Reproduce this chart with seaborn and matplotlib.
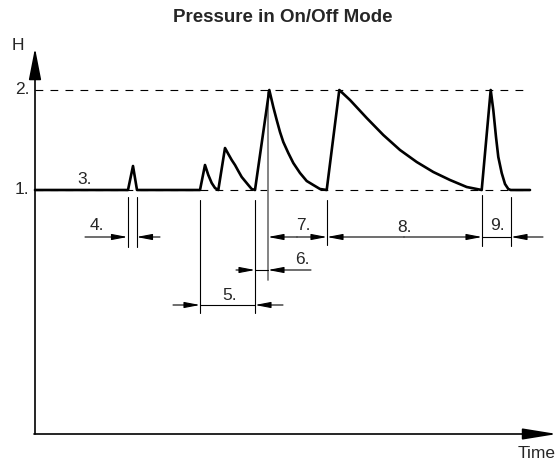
import matplotlib
matplotlib.use("Agg")
import matplotlib.pyplot as plt
from matplotlib.patches import FancyArrowPatch
import seaborn as sns
import pandas as pd

# ---- data (time in arbitrary units, H pressure level) ----
time_pts = [35, 128, 133, 137, 200,
            205, 208.3, 211.7, 215, 218.3,
            225, 228.3, 231.7, 235, 238.3, 241.7, 245, 248.3, 251.7, 255,
            269.3, 273.3, 276.7, 280, 283.3, 288.3, 293.3, 300, 306.7, 313.3, 320, 326.7,
            339.3, 350, 366.7, 383.3, 400, 416.7, 433.3, 450, 466.7, 481.7,
            490.7, 493.3, 496, 498.3, 501.7, 505, 508.3, 510.7,
            530]
pressure = [1.0, 1.0, 1.24, 1.0, 1.0,
            1.25, 1.15, 1.07, 1.02, 1.0,
            1.42, 1.36, 1.30, 1.25, 1.19, 1.13, 1.09, 1.05, 1.01, 1.0,
            2.0, 1.83, 1.70, 1.58, 1.48, 1.37, 1.27, 1.17, 1.09, 1.05, 1.01, 1.0,
            2.0, 1.90, 1.72, 1.55, 1.40, 1.28, 1.18, 1.10, 1.03, 1.0,
            2.0, 1.80, 1.53, 1.33, 1.17, 1.06, 1.01, 1.0,
            1.0]
level_labels = ["1.", "2."]
level_values = [1.0, 2.0]
dim_labels = ["3.", "4.", "5.", "6.", "7.", "8.", "9."]
title = "Pressure in On/Off Mode"
x_label = "Time"
y_label = "H"

sns.set_style("white")
plt.rcParams['font.family'] = ['Liberation Sans', 'DejaVu Sans']

fig = plt.figure(figsize=(5.58, 4.59), dpi=100)
ax = fig.add_axes([0, 0, 1, 1])


def hy(py):
    return 1 + (190 - py) / 100.0


def arrow(x0, y0, x1, y1, hl=9.4, hw=1.8, lw=0.8, color='black'):
    p = FancyArrowPatch((x0, hy(y0)), (x1, hy(y1)),
                        arrowstyle=f'-|>,head_length={hl},head_width={hw}',
                        mutation_scale=1, lw=lw, color=color,
                        shrinkA=0, shrinkB=0, zorder=3)
    ax.add_patch(p)


def vline(x, y0, y1, lw=0.8, color='black'):
    ax.plot([x, x], [hy(y0), hy(y1)], color=color, lw=lw, zorder=2)


def hline(x0, x1, y, lw=0.8):
    ax.plot([x0, x1], [hy(y), hy(y)], color='black', lw=lw, zorder=2)


# dashed reference levels
for v in level_values:
    ax.plot([35, 523], [v, v], color='black', lw=0.8, ls=(0, (7, 6.5)), zorder=1)

# pressure curve
df = pd.DataFrame({"t": time_pts, "H": pressure})
sns.lineplot(data=df, x="t", y="H", sort=False, estimator=None, ax=ax,
             color='black', lw=1.9, zorder=4)
ax.axis('off')
ax.set_xlim(0, 558)
ax.set_ylim(-1.69, 2.9)

# axes with arrows
arrow(35, 434, 35, 48, hl=19.5, hw=3.8, lw=1.2)
arrow(34, 434, 557, 434, hl=21, hw=3.4, lw=1.2)

# extension lines
vline(127.5, 197, 247)
vline(136.5, 197, 247)
vline(200, 200, 313)
vline(255, 200, 313)
vline(268, 92, 280, lw=1.3, color='#7a7a7a')
vline(327, 200, 245)
vline(482, 195, 246)
vline(511, 197, 246)

# dimension 4
arrow(85, 237, 127.5, 237)
arrow(160, 237, 136.5, 237)
# dimension 5
arrow(173, 305, 200, 305)
arrow(283, 305, 255, 305)
hline(200, 255, 305)
# dimension 6
arrow(236, 270, 255, 270)
arrow(311, 270, 268, 270)
hline(255, 268, 270)
# dimension 7
arrow(297, 237, 268, 237)
arrow(297, 237, 327, 237)
# dimension 8
arrow(404, 237, 327, 237)
arrow(404, 237, 482, 237)
# dimension 9
hline(482, 511, 237)
arrow(543, 237, 511, 237)

fs = 12.5
label_pos = [(85, 180), (97, 226), (230, 295), (302, 260), (303, 225), (405, 227), (497, 225)]
for lab, (x, y) in zip(dim_labels, label_pos):
    ax.text(x, hy(y), lab, ha='center', va='center', fontsize=fs)

for lab, v in zip(level_labels, level_values):
    ax.text(22, v, lab, ha='center', va='center', fontsize=fs)

ax.text(18, hy(45), y_label, ha='center', va='center', fontsize=fs)
ax.text(537, hy(453), x_label, ha='center', va='center', fontsize=fs)
ax.text(283, hy(18), title, ha='center', va='center', fontsize=13.5, fontweight='bold')

fig.savefig("out.png", dpi=100)
